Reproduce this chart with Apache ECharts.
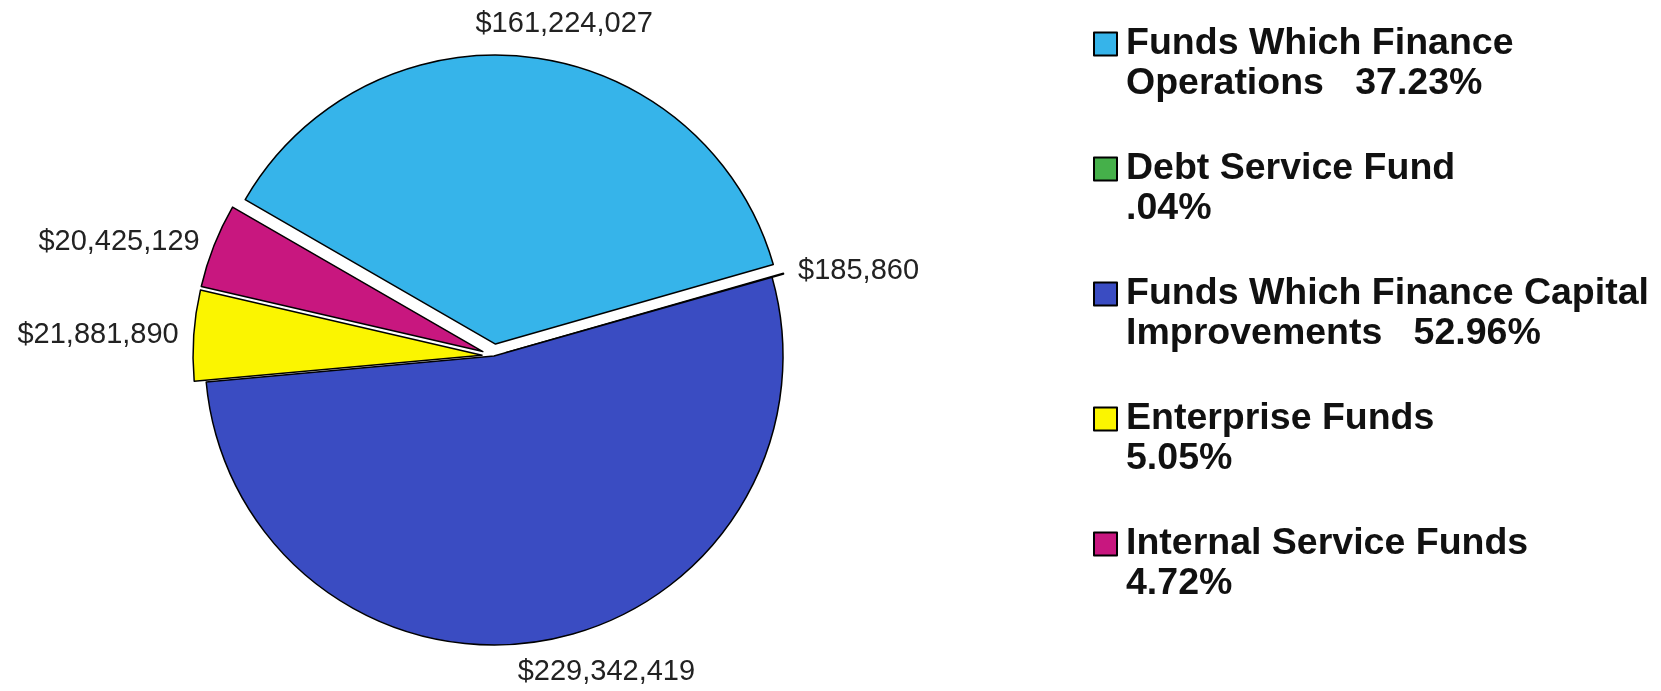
<!DOCTYPE html>
<html>
<head>
<meta charset="utf-8">
<script src="https://cdn.jsdelivr.net/npm/echarts@6/dist/echarts.min.js"></script>
<style>
  html, body { margin: 0; padding: 0; background: #ffffff; }
  #chart { width: 1661px; height: 691px; }
</style>
</head>
<body>
<div id="chart"></div>
<script>
// Fund categories, in drawing order (clockwise)
const categories = [
  'Funds Which Finance Operations',
  'Debt Service Fund',
  'Funds Which Finance Capital Improvements',
  'Enterprise Funds',
  'Internal Service Funds'
];
// How each legend entry wraps onto two lines
const legendLine1 = ['Funds Which Finance', 'Debt Service Fund', 'Funds Which Finance Capital', 'Enterprise Funds', 'Internal Service Funds'];
const legendLine2 = ['Operations', '', 'Improvements', '', ''];
// Dollar amounts per fund
const amounts = [161224027, 185860, 229342419, 21881890, 20425129];
// Slices pulled away from the centre
const exploded = [true, true, false, true, true];
const sliceColors = ['#36b4ea', '#45b04a', '#3a4cc2', '#fbf500', '#c8177f'];

const START_ANGLE = 150;
const total = amounts.reduce((a, b) => a + b, 0);

function pctText(v) {
  let s = (v / total * 100).toFixed(2);
  if (s.startsWith('0.')) s = s.slice(1);
  return s + '%';
}

// Mid angle of each slice (radians, counter-clockwise from east), for label placement
const midAngles = [];
(function () {
  let acc = 0;
  amounts.forEach(v => {
    const span = v / total * 360;
    midAngles.push((START_ANGLE - acc - span / 2) * Math.PI / 180);
    acc += span;
  });
})();

const chart = echarts.init(document.getElementById('chart'), null, { renderer: 'canvas' });

const data = categories.map((name, i) => ({
  name: name,
  value: amounts[i],
  selected: exploded[i],
  itemStyle: { color: sliceColors[i] }
}));

chart.setOption({
  backgroundColor: '#ffffff',
  animation: false,
  legend: {
    orient: 'vertical',
    left: 1088,
    top: -21,
    itemWidth: 23,
    itemHeight: 23,
    itemGap: 5,
    selectedMode: false,
    icon: 'rect',
    data: categories,
    // leading blank line keeps the swatch beside the first text line
    formatter: function (name) {
      const i = categories.indexOf(name);
      const second = legendLine2[i] ? legendLine2[i] + '   ' : '';
      return '\n' + legendLine1[i] + '\n' + second + pctText(amounts[i]);
    },
    textStyle: {
      fontFamily: 'Liberation Sans, Arial, sans-serif',
      fontWeight: 'bold',
      fontSize: 37.5,
      lineHeight: 40,
      color: '#111111',
      padding: [0, 0, 0, 4]
    }
  },
  series: [{
    type: 'pie',
    center: [494, 356],
    radius: 289,
    startAngle: START_ANGLE,
    clockwise: true,
    selectedMode: 'multiple',
    selectedOffset: 12,
    avoidLabelOverlap: false,
    emphasis: { disabled: true },
    itemStyle: { borderColor: '#000000', borderWidth: 1.5 },
    label: {
      show: true,
      position: 'outside',
      fontFamily: 'Liberation Sans, Arial, sans-serif',
      fontSize: 29,
      color: '#222222',
      formatter: p => '$' + p.value.toLocaleString('en-US')
    },
    labelLine: { show: false, length: 10, length2: 0 },
    // labels near the top and bottom sit further out and more centred over their slice
    labelLayout: function (params) {
      const s = Math.sin(midAngles[params.dataIndex]);
      const k = Math.max(0, Math.abs(s) - 0.8) / 0.2;
      return {
        dx: -params.labelRect.width * (s > 0 ? 0.36 : 0.22) * k,
        dy: -s * 24 * k
      };
    },
    data: data
  }]
});
</script>
</body>
</html>
